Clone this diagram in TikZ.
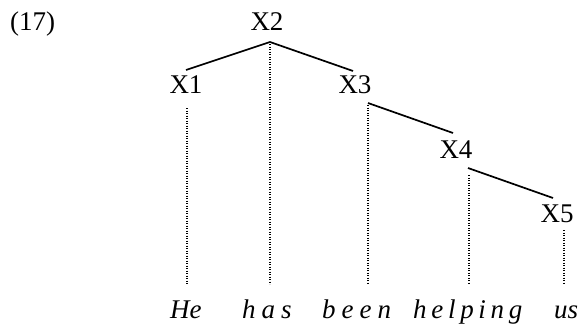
\documentclass[tikz,border=0pt]{standalone}
\usepackage{fontspec}
\setmainfont{Liberation Serif}
\begin{document}
\begin{tikzpicture}[x=1pt,y=-1pt,
  lab/.style={inner sep=0pt,anchor=base,font=\fontsize{27}{30}\selectfont},
  word/.style={inner sep=0pt,anchor=base west,font=\fontsize{27}{30}\selectfont\itshape},
  branch/.style={line width=1.7pt},
  trace/.style={line width=1.2pt,dash pattern=on 1.2pt off 1.3pt}]
\useasboundingbox (0,0) rectangle (581,324);
\node[lab,anchor=base west] (ex) at (10,30) {(17)};
\node[lab] (X2) at (267,30) {X2};
\node[lab] (X1) at (186,93) {X1};
\node[lab] (X3) at (355,93) {X3};
\node[lab] (X4) at (456,158) {X4};
\node[lab] (X5) at (557,222) {X5};
% branch end points
\coordinate (a2) at (270,42);
\coordinate (t1) at (186,70);
\coordinate (t3) at (353,71);
\coordinate (b3) at (368,103);
\coordinate (t4) at (453,133);
\coordinate (b4) at (468,168);
\coordinate (t5) at (553,198);
\draw[branch] (t1) -- (a2) -- (t3);
\draw[branch] (b3) -- (t4);
\draw[branch] (b4) -- (t5);
% words
\node[word] (w1) at (170,318) {He};
\node[word] (w2) at (242,318) {h\kern6pt a\kern6pt s};
\node[word] (w3) at (322,318) {b\kern6pt e\kern6pt e\kern6pt n};
\node[word] (w4) at (413,318) {h\kern4.7pt e\kern4.7pt l\kern4.7pt p\kern4.7pt i\kern4.7pt n\kern4.7pt g};
\node[word] (w5) at (554,318) {us};
% traces
\coordinate (d1) at (187,108); \coordinate (e1) at (187,284);
\coordinate (d2) at (270,44);  \coordinate (e2) at (270,284);
\coordinate (d3) at (368,105); \coordinate (e3) at (368,284);
\coordinate (d4) at (469,175); \coordinate (e4) at (469,284);
\coordinate (d5) at (564,230); \coordinate (e5) at (564,284);
\foreach \i in {1,...,5} \draw[trace] (d\i) -- (e\i);
\end{tikzpicture}
\end{document}
